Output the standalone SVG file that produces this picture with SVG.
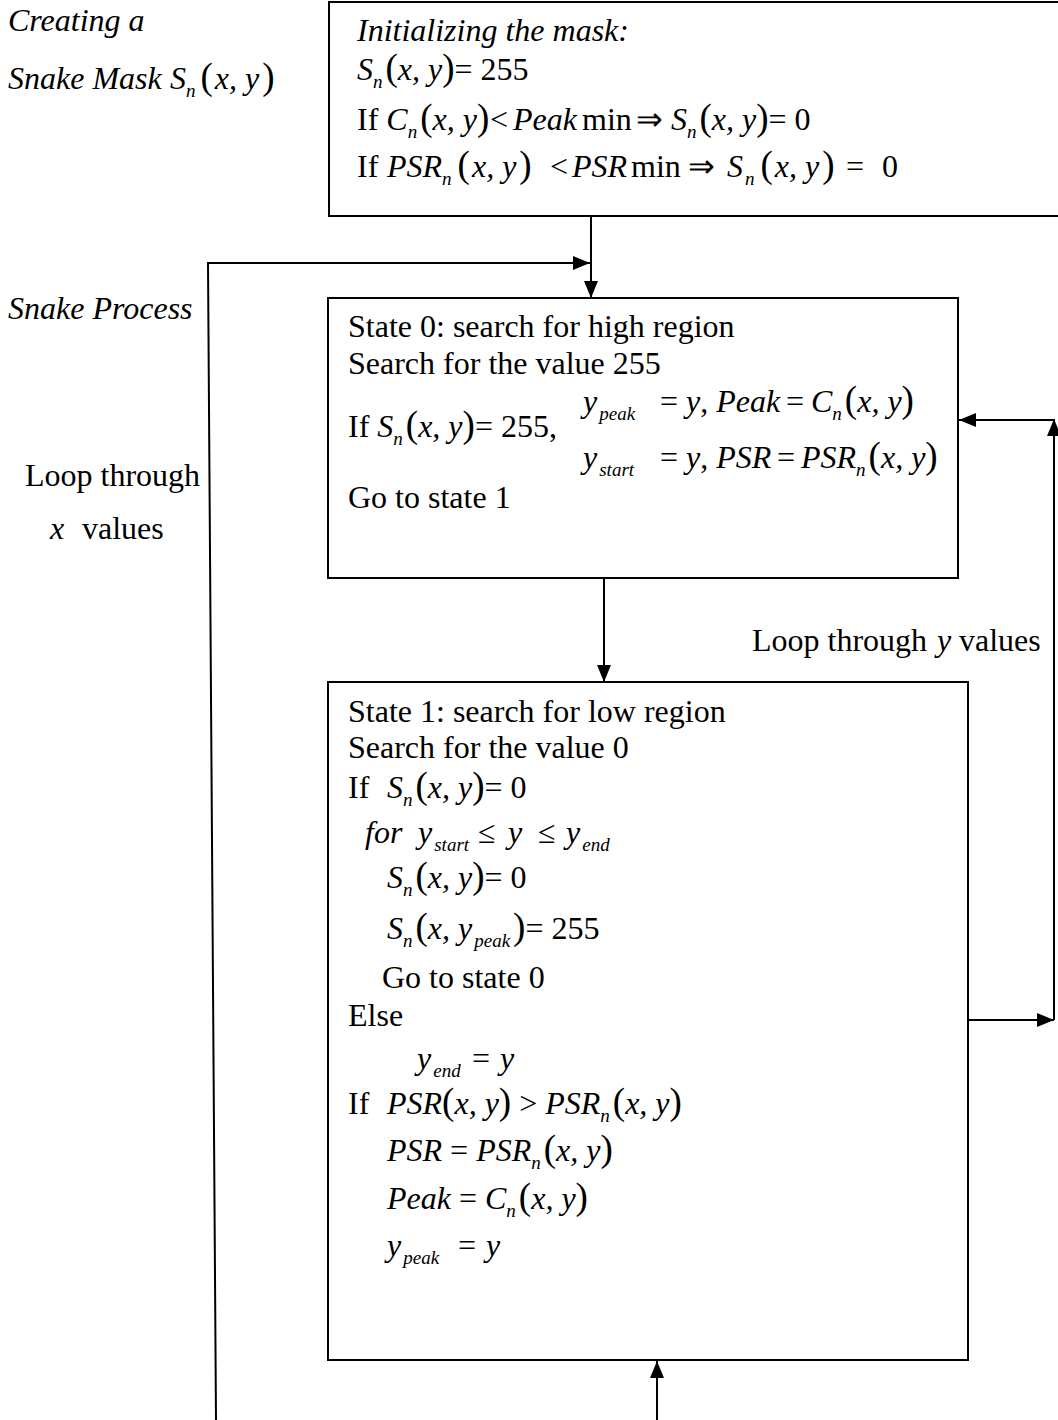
<svg xmlns="http://www.w3.org/2000/svg" width="1058" height="1420" viewBox="0 0 1058 1420">
  <style>
    text { font-family: "Liberation Serif", "Times New Roman", serif; font-size: 32px; fill: #000; }
    .i { font-style: italic; }
    .sub { font-style: italic; font-size: 19px; }
    .p { font-size: 37px; }
    .box { fill: #fff; stroke: #000; stroke-width: 2; }
    .wire { fill: none; stroke: #000; stroke-width: 2; }
  </style>
  <defs>
    <marker id="arrow" markerUnits="userSpaceOnUse" markerWidth="17" markerHeight="14" refX="17" refY="7" orient="auto">
      <path d="M0,0 L17,7 L0,14 z" fill="#000"/>
    </marker>
  </defs>

  <rect width="1058" height="1420" fill="#fff"/>

  <!-- side captions -->
  <g id="captions">
    <text x="8" y="31" class="i">Creating a</text>
    <text x="8" y="89"><tspan class="i">Snake Mask</tspan><tspan class="i" x="170">S</tspan><tspan class="sub" dy="8">n</tspan><tspan class="p" dy="-8" dx="5">(</tspan><tspan class="i" dx="2">x, y</tspan><tspan class="p" dx="3">)</tspan></text>
    <text x="8" y="319" class="i">Snake Process</text>
    <text x="25" y="486">Loop through</text>
    <text x="50" y="539"><tspan class="i">x</tspan><tspan x="82">values</tspan></text>
    <text x="752" y="651">Loop through<tspan class="i" x="937">y</tspan><tspan x="959">values</tspan></text>
  </g>

  <!-- connectors -->
  <g id="connectors">
    <line class="wire" x1="591" y1="216" x2="591" y2="298" marker-end="url(#arrow)"/>
    <polyline class="wire" points="216,1420 208,263 590,263" marker-end="url(#arrow)"/>
    <line class="wire" x1="604" y1="578" x2="604" y2="682" marker-end="url(#arrow)"/>
    <line class="wire" x1="968" y1="1020" x2="1054" y2="1020" marker-end="url(#arrow)"/>
    <line class="wire" x1="1054" y1="1020" x2="1054" y2="419" marker-end="url(#arrow)"/>
    <line class="wire" x1="1054" y1="420" x2="959" y2="420" marker-end="url(#arrow)"/>
    <line class="wire" x1="657" y1="1420" x2="657" y2="1361" marker-end="url(#arrow)"/>
  </g>

  <!-- mask initialisation -->
  <g id="node-init">
    <rect class="box" x="329" y="2" width="740" height="214"/>
    <text x="357" y="41" class="i">Initializing the mask:</text>
    <text x="357" y="80"><tspan class="i">S</tspan><tspan class="sub" dy="8">n</tspan><tspan class="p" dy="-8" dx="3">(</tspan><tspan class="i">x, y</tspan><tspan class="p">)</tspan>= 255</text>
    <text x="357" y="130">If <tspan class="i">C</tspan><tspan class="sub" dy="8">n</tspan><tspan class="p" dy="-8" dx="3">(</tspan><tspan class="i">x, y</tspan><tspan class="p">)</tspan><tspan x="490">&lt;</tspan><tspan class="i" x="513">Peak</tspan><tspan x="582">min</tspan><tspan x="636">⇒</tspan><tspan class="i" x="671">S</tspan><tspan class="sub" dy="8">n</tspan><tspan class="p" dy="-8" dx="3">(</tspan><tspan class="i">x, y</tspan><tspan class="p">)</tspan>= 0</text>
    <text x="357" y="177">If <tspan class="i" x="387">PSR</tspan><tspan class="sub" dy="8">n</tspan><tspan class="p" dy="-8" dx="6">(</tspan><tspan class="i" dx="2">x, y</tspan><tspan class="p" dx="3">)</tspan><tspan x="550">&lt;</tspan><tspan class="i" x="572">PSR</tspan><tspan x="631">min</tspan><tspan x="688">⇒</tspan><tspan class="i" x="727">S</tspan><tspan class="sub" dy="8" dx="2">n</tspan><tspan class="p" dy="-8" dx="6">(</tspan><tspan class="i" dx="2">x, y</tspan><tspan class="p" dx="3">)</tspan><tspan x="846">=</tspan><tspan x="882">0</tspan></text>
  </g>

  <!-- state 0 -->
  <g id="node-state0">
    <rect class="box" x="328" y="298" width="630" height="280"/>
    <text x="348" y="337">State 0: search for high region</text>
    <text x="348" y="374">Search for the value 255</text>
    <text x="348" y="437">If <tspan class="i">S</tspan><tspan class="sub" dy="8">n</tspan><tspan class="p" dy="-8" dx="3">(</tspan><tspan class="i">x, y</tspan><tspan class="p">)</tspan>= 255,</text>
    <text x="583" y="412"><tspan class="i">y</tspan><tspan class="sub" dy="8" dx="2">peak</tspan><tspan dy="-8" x="660">=</tspan><tspan class="i" x="686">y</tspan>, <tspan class="i">Peak</tspan><tspan x="786">=</tspan><tspan class="i" x="811">C</tspan><tspan class="sub" dy="8">n</tspan><tspan class="p" dy="-8" dx="3">(</tspan><tspan class="i">x, y</tspan><tspan class="p">)</tspan></text>
    <text x="583" y="468"><tspan class="i">y</tspan><tspan class="sub" dy="8" dx="2">start</tspan><tspan dy="-8" x="660">=</tspan><tspan class="i" x="686">y</tspan>, <tspan class="i">PSR</tspan><tspan x="777">=</tspan><tspan class="i" x="801">PSR</tspan><tspan class="sub" dy="8">n</tspan><tspan class="p" dy="-8" dx="3">(</tspan><tspan class="i">x, y</tspan><tspan class="p">)</tspan></text>
    <text x="348" y="508">Go to state 1</text>
  </g>

  <!-- state 1 -->
  <g id="node-state1">
    <rect class="box" x="328" y="682" width="640" height="678"/>
    <text x="348" y="722">State 1: search for low region</text>
    <text x="348" y="758">Search for the value 0</text>
    <text x="348" y="798">If <tspan class="i" x="387">S</tspan><tspan class="sub" dy="8">n</tspan><tspan class="p" dy="-8" dx="3">(</tspan><tspan class="i">x, y</tspan><tspan class="p">)</tspan>= 0</text>
    <text x="365" y="843"><tspan class="i">for</tspan><tspan class="i" x="418">y</tspan><tspan class="sub" dy="8" dx="2">start</tspan><tspan dy="-8" x="478">≤</tspan><tspan class="i" x="508">y</tspan><tspan x="538">≤</tspan><tspan class="i" x="566">y</tspan><tspan class="sub" dy="8" dx="2">end</tspan></text>
    <text x="387" y="888"><tspan class="i">S</tspan><tspan class="sub" dy="8">n</tspan><tspan class="p" dy="-8" dx="3">(</tspan><tspan class="i">x, y</tspan><tspan class="p">)</tspan>= 0</text>
    <text x="387" y="939"><tspan class="i">S</tspan><tspan class="sub" dy="8">n</tspan><tspan class="p" dy="-8" dx="3">(</tspan><tspan class="i">x, y</tspan><tspan class="sub" dy="8" dx="2">peak</tspan><tspan class="p" dy="-8" dx="3">)</tspan>= 255</text>
    <text x="382" y="988">Go to state 0</text>
    <text x="348" y="1026">Else</text>
    <text x="417" y="1069"><tspan class="i">y</tspan><tspan class="sub" dy="8" dx="2">end</tspan><tspan dy="-8" x="472">=</tspan><tspan class="i" x="500">y</tspan></text>
    <text x="348" y="1114">If <tspan class="i" x="387">PSR</tspan><tspan class="p">(</tspan><tspan class="i">x, y</tspan><tspan class="p">)</tspan> &gt; <tspan class="i">PSR</tspan><tspan class="sub" dy="8">n</tspan><tspan class="p" dy="-8" dx="3">(</tspan><tspan class="i">x, y</tspan><tspan class="p">)</tspan></text>
    <text x="387" y="1161"><tspan class="i">PSR</tspan> = <tspan class="i">PSR</tspan><tspan class="sub" dy="8">n</tspan><tspan class="p" dy="-8" dx="3">(</tspan><tspan class="i">x, y</tspan><tspan class="p">)</tspan></text>
    <text x="387" y="1209"><tspan class="i">Peak</tspan> = <tspan class="i">C</tspan><tspan class="sub" dy="8">n</tspan><tspan class="p" dy="-8" dx="3">(</tspan><tspan class="i">x, y</tspan><tspan class="p">)</tspan></text>
    <text x="387" y="1256"><tspan class="i">y</tspan><tspan class="sub" dy="8" dx="2">peak</tspan><tspan dy="-8" x="458">=</tspan><tspan class="i" x="486">y</tspan></text>
  </g>
</svg>
